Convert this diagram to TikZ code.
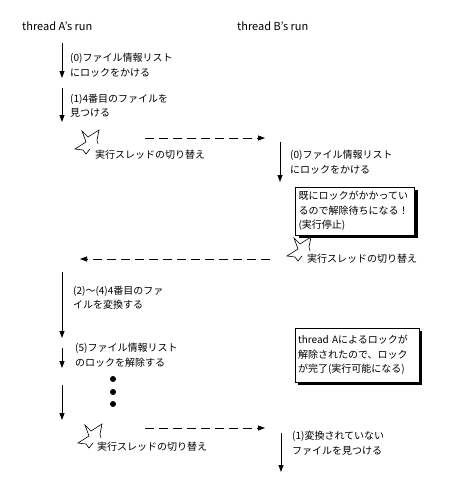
\documentclass[tikz,border=0pt]{standalone}
\usepackage{fontspec}
\setmainfont{Noto Sans CJK JP}
\usetikzlibrary{positioning,arrows.meta,shadows}

\begin{document}
\begin{tikzpicture}[x=1pt,y=-1pt,
    every node/.style={font=\fontsize{10}{14.5}\selectfont, inner sep=0pt},
    flow/.style={-{Triangle[length=7pt,width=5pt]}, line width=0.8pt},
    jump/.style={flow, dash pattern=on 9pt off 5pt},
    note/.style={draw, fill=white, align=left, inner sep=3pt, line width=0.8pt,
        drop shadow={shadow xshift=3pt, shadow yshift=-3pt, fill=black, opacity=1}},
    dot/.style={circle, fill, minimum size=6pt}]
    \useasboundingbox (0,0) rectangle (476,504);

    % Headings
    \node[anchor=west, font=\fontsize{11}{13}\selectfont] (headA) at (22,26) {thread A's run};
    \node[anchor=west, font=\fontsize{11}{13}\selectfont] (headB) at (237,26) {thread B's run};

    % Thread A, first part
    \coordinate (a1s) at (62,43);  \coordinate (a1e) at (62,78);
    \coordinate (a2s) at (62,88);  \coordinate (a2e) at (62,122);
    \draw[flow] (a1s) -- (a1e);
    \draw[flow] (a2s) -- (a2e);
    \node[anchor=north west, align=left] (lockA) at (70,53) {(0)ファイル情報リスト\\にロックをかける};
    \node[anchor=north west, align=left] (findA) at (70,94) {(1)4番目のファイルを\\見つける};

    % Thread B, first part
    \coordinate (b1s) at (280,142); \coordinate (b1e) at (280,182);
    \draw[flow] (b1s) -- (b1e);
    \node[anchor=north west, align=left] (lockB) at (290,150) {(0)ファイル情報リスト\\にロックをかける};
    \node[note, text width=113pt, minimum height=48pt] (waitB) at (355,211)
        {既にロックがかかってい\\るので解除待ちになる！\\(実行停止)};

    % Thread A, second part
    \coordinate (a3s) at (62,272); \coordinate (a3e) at (62,338);
    \coordinate (a4s) at (62,348); \coordinate (a4e) at (62,368);
    \coordinate (a5s) at (62,385); \coordinate (a5e) at (62,420);
    \draw[flow] (a3s) -- (a3e);
    \draw[flow] (a4s) -- (a4e);
    \draw[flow] (a5s) -- (a5e);
    \node[anchor=north west, align=left] (convA) at (73,286) {(2)〜(4)4番目のファ\\イルを変換する};
    \node[anchor=north west, align=left] (freeA) at (75,343) {(5)ファイル情報リスト\\のロックを解除する};
    \foreach \i/\y in {1/379, 2/392, 3/404}
        \node[dot] (dot\i) at (113,\y) {};

    % Thread B, second part
    \node[note, text width=118pt, minimum height=54pt] (readyB) at (357,355)
        {thread Aによるロックが\\解除されたので、ロック\\が完了(実行可能になる)};
    \coordinate (b2s) at (281,433); \coordinate (b2e) at (281,472);
    \draw[flow] (b2s) -- (b2e);
    \node[anchor=north west, align=left] (findB) at (292,431) {(1)変換されていない\\ファイルを見つける};

    % Thread switches
    \foreach \x/\y in {75/130, 287/237, 78/424}
        \draw[line width=0.6pt] (\x+11,\y+12) -- (\x+7,\y+1) -- (\x+13,\y+7) -- (\x+24,\y+0)
            -- (\x+22,\y+10) -- (\x+23,\y+14)
            (\x+11,\y+12) -- (\x+0,\y+19) -- (\x+8,\y+20) -- (\x+11,\y+24) -- (\x+15,\y+19);
    \node[anchor=west] (swA1) at (95,155) {実行スレッドの切り替え};
    \node[anchor=west] (swB) at (307,259) {実行スレッドの切り替え};
    \node[anchor=west] (swA2) at (97,447) {実行スレッドの切り替え};

    \coordinate (d1s) at (145,138); \coordinate (d1e) at (265,138);
    \coordinate (d2s) at (270,259); \coordinate (d2e) at (80,259);
    \coordinate (d3s) at (145,428); \coordinate (d3e) at (265,428);
    \draw[jump] (d1s) -- (d1e);
    \draw[jump] (d2s) -- (d2e);
    \draw[jump] (d3s) -- (d3e);
\end{tikzpicture}
\end{document}
